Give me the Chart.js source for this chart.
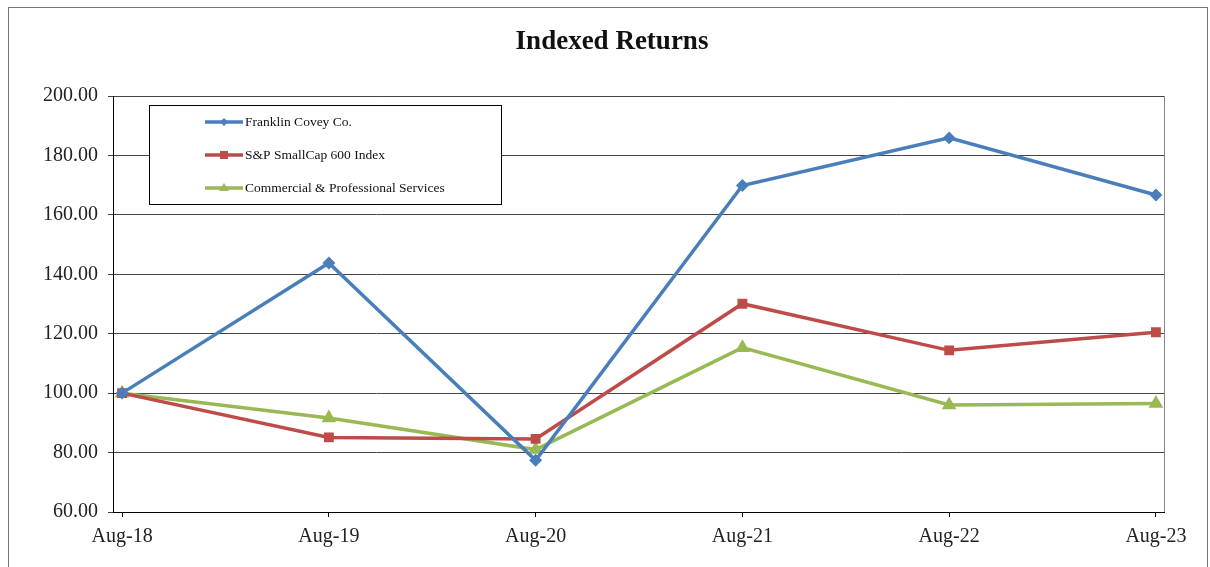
<!DOCTYPE html>
<html>
<head>
<meta charset="utf-8">
<script src="https://cdn.jsdelivr.net/npm/chart.js@4"></script>
<style>
    body { margin: 0; background: #fff; }
    canvas { display: block; }
</style>
</head>
<body>
<canvas id="chart" width="1210" height="567"></canvas>
<script>
// chart data
var categories = ["Aug-18", "Aug-19", "Aug-20", "Aug-21", "Aug-22", "Aug-23"];
var franklinCovey = [100.00, 143.8, 77.4, 169.9, 185.9, 166.7];
var smallCap600 = [100.00, 85.1, 84.6, 130.1, 114.4, 120.5];
var commercialServices = [100.00, 91.6, 81.0, 115.3, 96.0, 96.5];
var yTicks = [60, 80, 100, 120, 140, 160, 180, 200];
var chartTitle = "Indexed Returns";

var serif = "'Liberation Serif', 'Times New Roman', serif";

function points(values) {
    return values.map(function(v, i) {
        return { x: i, y: v };
    });
}

// outer frame, plot frame and title
var framePlugin = {
    id: "frame",
    beforeDraw: function(chart) {
        var ctx = chart.ctx, a = chart.chartArea;
        ctx.save();
        ctx.strokeStyle = "#777";
        ctx.lineWidth = 1;
        ctx.strokeRect(8.5, 7.5, 1199, 620);
        ctx.strokeStyle = "#888";
        ctx.strokeRect(a.left + 0.5, a.top + 0.5, a.right - a.left, a.bottom - a.top);

        ctx.fillStyle = "#111";
        ctx.font = "bold 27px " + serif;
        ctx.textAlign = "center";
        ctx.textBaseline = "middle";
        ctx.fillText(chartTitle, 612, 42);
        ctx.restore();
    }
};

// boxed legend inside the plot
var boxLegend = {
    id: "boxLegend",
    afterDraw: function(chart) {
        var ctx = chart.ctx;
        ctx.save();
        ctx.fillStyle = "#fff";
        ctx.fillRect(149, 105, 352, 99);
        ctx.strokeStyle = "#000";
        ctx.lineWidth = 1;
        ctx.strokeRect(149.5, 105.5, 352, 99);

        var rows = [122, 155, 188];
        chart.data.datasets.forEach(function(ds, i) {
            var y = rows[i];
            ctx.strokeStyle = ds.borderColor;
            ctx.lineWidth = 3.5;
            ctx.beginPath();
            ctx.moveTo(205, y);
            ctx.lineTo(243, y);
            ctx.stroke();
            ctx.fillStyle = ds.borderColor;
            ctx.beginPath();
            if (ds.pointStyle === "rectRot") {
                ctx.moveTo(224, y - 4); ctx.lineTo(228, y); ctx.lineTo(224, y + 4); ctx.lineTo(220, y);
            } else if (ds.pointStyle === "rect") {
                ctx.rect(220, y - 4, 8, 8);
            } else {
                ctx.moveTo(224, y - 5); ctx.lineTo(229, y + 3); ctx.lineTo(219, y + 3);
            }
            ctx.closePath();
            ctx.fill();
            ctx.fillStyle = "#111";
            ctx.font = "13.5px " + serif;
            ctx.textBaseline = "middle";
            ctx.fillText(ds.label, 245, y);
        });
        ctx.restore();
    }
};

var chart = new Chart("chart", {
    type: "line",
    data: {
        datasets: [
            {
                label: "Franklin Covey Co.",
                data: points(franklinCovey),
                borderColor: "#4a7ebb",
                backgroundColor: "#4a7ebb",
                borderWidth: 3.5,
                pointStyle: "rectRot",
                pointRadius: 4,
                tension: 0
            },
            {
                label: "S&P SmallCap 600 Index",
                data: points(smallCap600),
                borderColor: "#be4b48",
                backgroundColor: "#be4b48",
                borderWidth: 3.5,
                pointStyle: "rect",
                pointRadius: 4.5,
                tension: 0
            },
            {
                label: "Commercial & Professional Services",
                data: points(commercialServices),
                borderColor: "#98b954",
                backgroundColor: "#98b954",
                borderWidth: 3.5,
                pointStyle: "triangle",
                pointRadius: 5,
                tension: 0
            }
        ]
    },
    options: {
        responsive: false,
        animation: false,
        layout: { padding: { top: 96, right: 46, bottom: 0, left: 0 } },
        plugins: {
            legend: { display: false },
            tooltip: { enabled: false },
            title: { display: false }
        },
        scales: {
            x: {
                type: "linear",
                min: -0.044,
                max: 5.039,
                afterBuildTicks: function(scale) {
                    scale.ticks = categories.map(function(c, i) { return { value: i }; });
                },
                afterFit: function(scale) { scale.height = 55; },
                grid: { drawOnChartArea: false, tickLength: 5, color: "#000" },
                border: { color: "#000", width: 1 },
                ticks: {
                    autoSkip: false,
                    maxRotation: 0,
                    padding: 8,
                    color: "#222",
                    font: { family: serif, size: 20 },
                    callback: function(v) { return categories[v]; }
                }
            },
            y: {
                min: 60,
                max: 200,
                afterBuildTicks: function(scale) {
                    scale.ticks = yTicks.map(function(v) { return { value: v }; });
                },
                afterFit: function(scale) { scale.width = 113; },
                grid: { color: "#444", lineWidth: 1, tickLength: 5 },
                border: { color: "#000", width: 1 },
                ticks: {
                    padding: 10,
                    color: "#222",
                    font: { family: serif, size: 20 },
                    callback: function(v) { return v.toFixed(2); }
                }
            }
        }
    },
    plugins: [framePlugin, boxLegend]
});
</script>
</body>
</html>
